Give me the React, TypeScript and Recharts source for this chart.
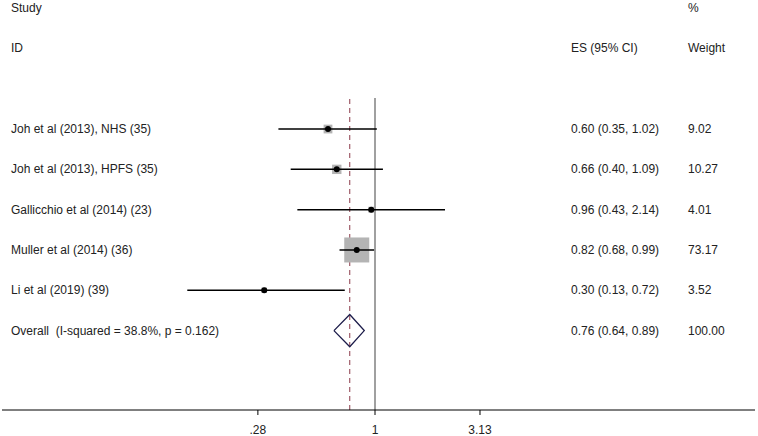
import { ComposedChart, Scatter, XAxis, YAxis, ReferenceLine } from "recharts";

const studyNames = [
  "Joh et al (2013), NHS (35)",
  "Joh et al (2013), HPFS (35)",
  "Gallicchio et al (2014) (23)",
  "Muller et al (2014) (36)",
  "Li et al (2019) (39)",
];
const esValues = [0.6, 0.66, 0.96, 0.82, 0.3];
const lowerCI = [0.35, 0.4, 0.43, 0.68, 0.13];
const upperCI = [1.02, 1.09, 2.14, 0.99, 0.72];
const weights = [9.02, 10.27, 4.01, 73.17, 3.52];

const overallLabel = "Overall  (I-squared = 38.8%, p = 0.162)";
const overallES = 0.76;
const overallLower = 0.64;
const overallUpper = 0.89;
const overallWeight = 100.0;

const tickValues = [0.28, 1, 3.13];
const tickLabels = [".28", "1", "3.13"];

const FONT = "'Liberation Sans', Arial, sans-serif";
const TEXT = "#222";
const maxWeight = Math.max(...weights);

const rows = studyNames.map((name, i) => ({
  name,
  x: Math.log(esValues[i]),
  y: i,
  ci: `${esValues[i].toFixed(2)} (${lowerCI[i].toFixed(2)}, ${upperCI[i].toFixed(2)})`,
  weight: weights[i],
}));

// one two-point segment per study for the confidence interval
const ciSegments = studyNames.map((_n, i) => [
  { x: Math.log(lowerCI[i]), y: i },
  { x: Math.log(upperCI[i]), y: i },
]);

const overallRow = [{
  name: overallLabel,
  x: Math.log(overallES),
  y: studyNames.length,
  ci: `${overallES.toFixed(2)} (${overallLower.toFixed(2)}, ${overallUpper.toFixed(2)})`,
  weight: overallWeight,
}];

const diamond = [
  { x: Math.log(overallLower), y: studyNames.length },
  { x: Math.log(overallES), y: studyNames.length - 0.4 },
  { x: Math.log(overallUpper), y: studyNames.length },
  { x: Math.log(overallES), y: studyNames.length + 0.4 },
  { x: Math.log(overallLower), y: studyNames.length },
];

const RowText = (props: any) => {
  const { cy, payload } = props;
  return (
    <g fontFamily={FONT} fontSize={12} fill={TEXT}>
      <text x={11} y={cy} dominantBaseline="central" style={{ whiteSpace: "pre" }}>{payload.name}</text>
      <text x={571} y={cy} dominantBaseline="central">{payload.ci}</text>
      <text x={688} y={cy} dominantBaseline="central">{payload.weight.toFixed(2)}</text>
    </g>
  );
};

const WeightBox = (props: any) => {
  const { cx, cy, payload } = props;
  const size = 25 * Math.sqrt(payload.weight / maxWeight);
  return (
    <g>
      <rect x={cx - size / 2} y={cy - size / 2} width={size} height={size} fill="#b4b4b4" />
      <RowText {...props} />
    </g>
  );
};

const Dot = (props: any) => <circle cx={props.cx} cy={props.cy} r={3} fill="#000" />;
const NoShape = () => <g />;

const AxisTick = (props: any) => {
  const { x, y, index } = props;
  return (
    <text x={x} y={y + 13} textAnchor="middle" dominantBaseline="central" fontFamily={FONT} fontSize={12} fill={TEXT}>
      {tickLabels[index]}
    </text>
  );
};

const header = (text: string, left: number, top: number) => (
  <div style={{ position: "absolute", left, top, fontFamily: FONT, fontSize: 12, color: TEXT, lineHeight: "14px" }}>{text}</div>
);

export default function App() {
  return (
    <div style={{ position: "absolute", left: 0, top: 0, width: 758, height: 436, background: "#fff" }}>
      {header("Study", 11, 1)}
      {header("ID", 11, 41)}
      {header("ES (95% CI)", 571, 41)}
      {header("%", 688, 1)}
      {header("Weight", 688, 41)}
      <ComposedChart width={758} height={436} margin={{ top: 98, right: 3, bottom: 0, left: 2 }}>
        <XAxis
          type="number"
          dataKey="x"
          domain={[-4.054, 4.13]}
          allowDataOverflow
          ticks={tickValues.map((v) => Math.log(v))}
          height={26}
          tickSize={5}
          axisLine={{ stroke: "#000", strokeWidth: 1 }}
          tickLine={{ stroke: "#000" }}
          tick={AxisTick}
        />
        <YAxis type="number" dataKey="y" domain={[-0.77, 6.97]} reversed hide allowDataOverflow />
        <ReferenceLine x={0} stroke="#808080" strokeWidth={1.5} />
        <ReferenceLine x={Math.log(overallES)} stroke="#8b3a4a" strokeDasharray="5 4" strokeWidth={1} />
        <Scatter data={rows} shape={WeightBox} isAnimationActive={false} />
        {ciSegments.map((seg, i) => (
          <Scatter
            key={i}
            data={seg}
            line={{ stroke: "#000", strokeWidth: 1.5 }}
            lineType="joint"
            shape={NoShape}
            isAnimationActive={false}
          />
        ))}
        <Scatter data={rows} shape={Dot} isAnimationActive={false} />
        <Scatter data={overallRow} shape={RowText} isAnimationActive={false} />
        <Scatter
          data={diamond}
          line={{ stroke: "#1c1c4a", strokeWidth: 1.3 }}
          lineType="joint"
          shape={NoShape}
          isAnimationActive={false}
        />
      </ComposedChart>
    </div>
  );
}
